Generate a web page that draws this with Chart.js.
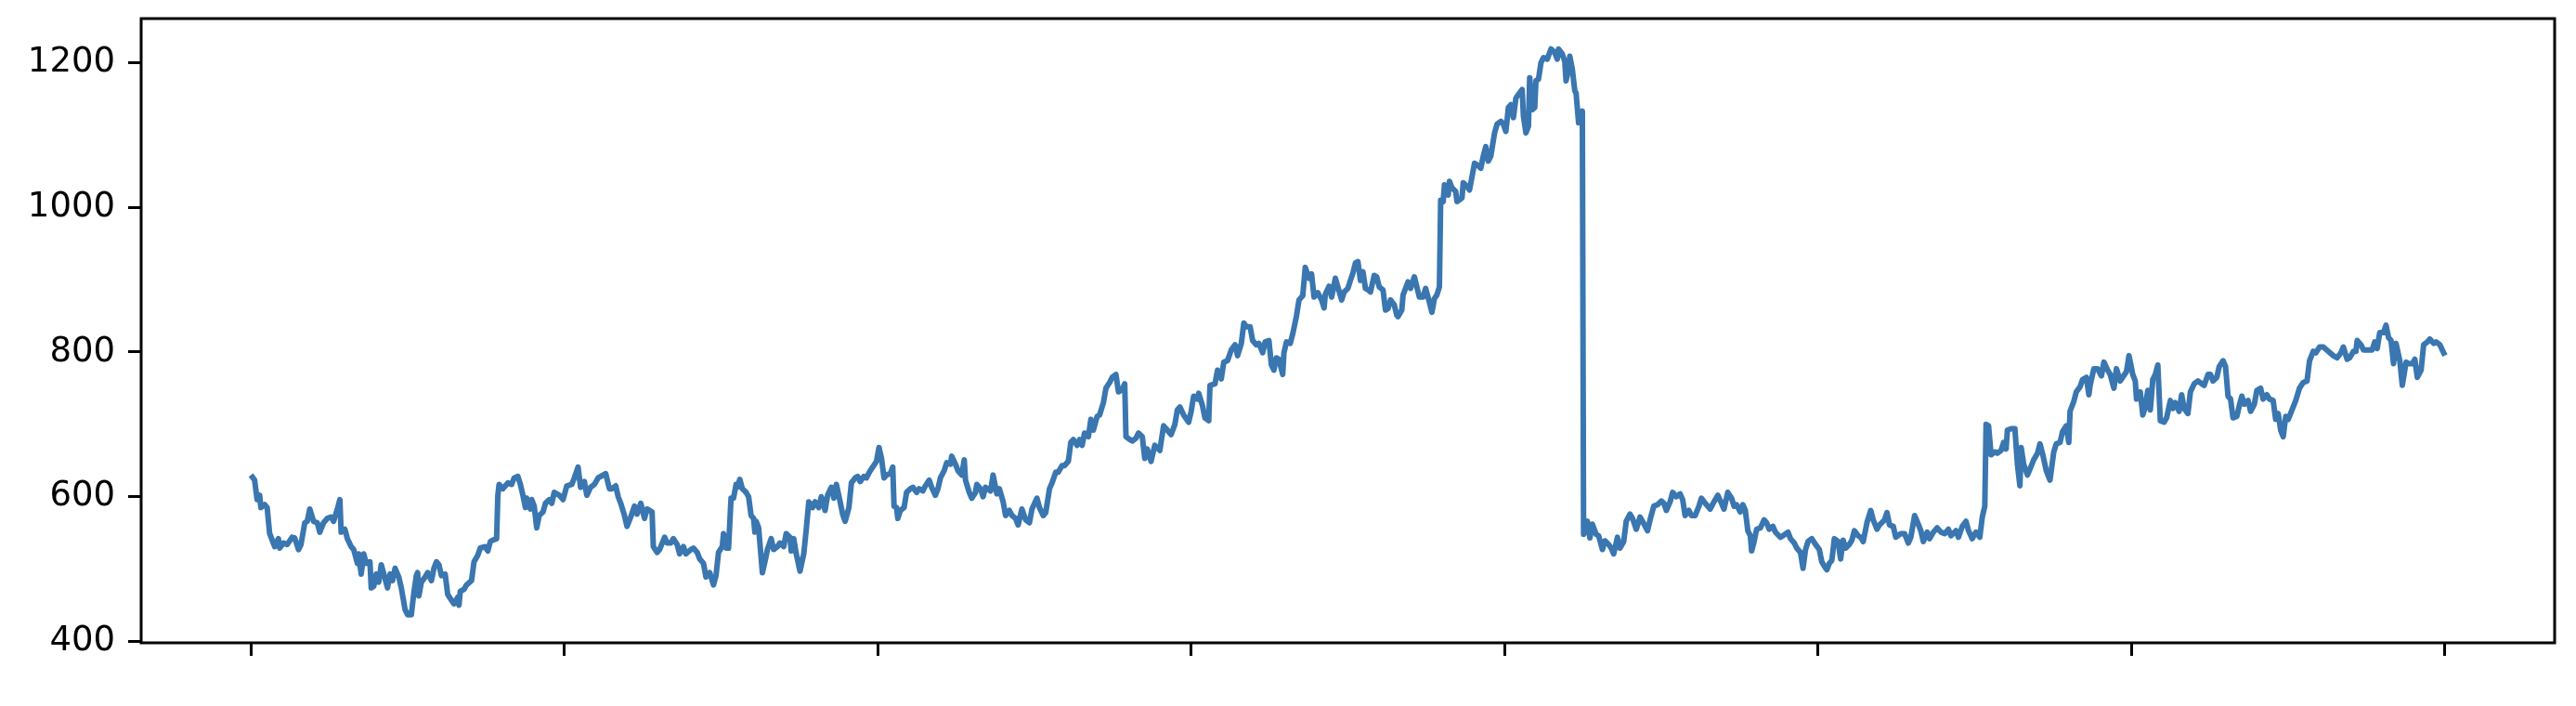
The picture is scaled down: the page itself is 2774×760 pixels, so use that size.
<!DOCTYPE html>
<html>
<head>
<meta charset="utf-8">
<script src="https://cdn.jsdelivr.net/npm/chart.js@4.4.1/dist/chart.umd.min.js"></script>
<style>
  body { margin: 0; background: #fff; }
  #grafico { display: block; }
</style>
</head>
<body>
<canvas id="grafico" width="2774" height="760"></canvas>
<script>
// dias (indice) y precio
const dias = [
  0,3,5,7,8,11,13,15,17,19,22,23,26,29,33,35,38,40,43,45,47,50,53,55,58,61,64,66,69,71,
  72,75,77,80,82,85,86,88,90,92,95,96,98,100,102,104,107,109,111,113,115,118,120,123,125,
  128,130,132,133,134,136,139,141,144,146,148,150,152,155,157,160,162,165,166,167,170,172,
  176,178,181,183,187,189,191,193,196,197,198,201,203,205,208,210,213,
  215,217,219,220,223,224,226,228,230,233,235,238,240,242,246,249,252,256,258,261,263,266,
  268,271,274,277,281,283,286,288,291,293,295,298,300,303,306,308,311,314,316,320,321,324,
  326,330,332,335,337,340,342,345,347,351,353,356,358,361,363,366,369,371,373,376,377,379,
  381,383,385,387,388,390,392,395,397,399,401,402,403,405,408,410,412,415,417,420,422,425,427,430,
  431,433,435,438,441,443,445,448,450,453,455,458,460,463,465,467,470,472,474,477,479,482,
  484,486,489,491,494,496,499,501,503,505,507,510,512,513,515,516,518,521,523,526,528,531,
  533,536,538,541,543,546,548,550,553,555,558,559,562,564,567,569,570,573,575,578,579,582,
  584,586,590,592,595,597,600,602,605,607,610,612,615,618,621,623,627,629,632,634,637,639,642,644,647,
  649,652,654,656,659,661,663,665,668,670,672,675,677,680,682,685,687,690,692,695,697,698,
  701,703,706,708,711,713,715,718,721,723,725,728,730,734,737,739,741,744,748,750,752,755,
  756,759,761,764,765,769,771,774,776,779,782,785,787,790,792,794,797,799,802,804,807,809,
  812,814,816,818,820,823,824,826,829,831,834,836,839,841,844,846,848,851,854,856,857,860,862,863,865,
  870,872,875,877,879,881,883,885,887,889,891,893,896,898,900,903,905,907,909,912,914,915,
  918,919,923,925,928,930,932,935,937,940,942,944,946,948,949,951,952,955,956,958,961,962,
  966,967,970,972,976,978,981,983,985,987,989,992,994,997,999,1001,1003,1005,1007,1009,1011,
  1014,1015,1017,1019,1020,1022,1024,1025,1027,1029,1031,1034,1037,1040,1042,1043,1046,1048,
  1049,1051,1052,1054,1056,1057,1059,1061,1062,1063,1064,1066,1068,1070,1073,1075,1078,1080,1083,
  1085,1087,1090,1092,1095,1097,1100,1102,1105,1108,1110,1114,1116,1119,1122,1125,1127,1129,
  1132,1134,1137,1140,1142,1144,1147,1149,1152,1155,1157,1160,1164,1167,1170,1173,1175,1178,
  1181,1183,1185,1188,1190,1192,1194,1196,1197,1199,1201,1204,1207,1209,1211,1214,1216,1220,
  1222,1226,1228,1231,1233,1236,1238,1240,1242,1245,1248,1251,1253,1255,1257,1259,1261,1263,
  1266,1268,1270,1272,1275,1277,1279,1282,1284,1286,1289,1292,1294,1297,1299,1302,
  1303,1305,1307,1310,1312,1316,1319,1322,1324,1327,1329,1332,1334,1337,1339,1342,1345,1348,
  1351,1354,1356,1360,1362,1365,1368,1370,1373,1376,1379,1381,1383,1384,1386,1388,1391,1393,
  1396,1398,1400,1401,1404,1407,1409,1411,1412,1414,1417,1419,1422,1425,1427,1429,1432,1435,
  1438,1440,1443,1445,1448,1450,1451,1454,1456,1459,1461,1464,1466,1467,1470,1473,1476,1478,
  1481,1483,1486,1488,1491,1493,1496,1498,1501,1503,1504,1507,1509,1511,1513,1515,1517,1519,1521,1523,
  1526,1528,1531,1533,1535,1538,1540,1542,1545,1547,1550,1553,1556,1558,1561,1563,1565,1568,
  1570,1573,1575,1577,1579,1581,1584,1586,1588,1590,1593,1595,1598,1600,1603,1605,1608,1610,
  1613,1615,1617,1619,1621,1623,1625,1628,1631,1634,1637,1640,1642,1645,1647,1650,1653,1657,
  1661,1664,1667,1669,1672,1674,1677,1679,1680,1683,1685,1689,1692,1694,1696,1698,1701,1703,
  1705,1707,1709,1711,1714,1716,1719,1721,1724,1726,1728,1731,1733,1736,1738,1741,1743,1746,1750
];

const precios = [
  630,623,596,602,585,589,585,549,540,531,542,529,536,534,544,543,527,534,564,566,583,566,564,551,564,570,572,566,583,596,
  551,555,542,531,527,508,521,493,521,508,510,474,476,493,482,506,487,474,493,484,501,489,474,444,437,
  437,467,491,495,463,482,489,495,484,501,510,506,491,493,465,457,452,461,450,469,472,478,
  484,510,519,529,531,525,538,540,542,602,617,611,615,619,617,626,628,
  617,602,585,598,583,596,587,557,574,579,591,596,591,606,602,596,615,617,626,641,613,621,
  602,613,617,626,630,632,611,611,615,600,591,574,559,572,587,576,591,570,583,579,531,523,
  527,544,536,536,542,534,521,531,521,527,529,523,514,508,489,495,478,491,523,531,549,529,
  529,598,598,617,613,624,611,606,600,574,570,551,566,557,495,510,527,542,527,531,536,531,549,544,
  525,542,521,497,521,555,593,585,593,585,600,581,602,613,598,617,593,576,566,585,619,626,
  628,621,628,626,636,641,649,668,653,626,630,632,641,587,585,570,581,585,606,611,613,606,
  611,608,615,623,613,602,611,626,636,647,645,656,645,636,630,651,623,606,598,606,617,611,
  600,613,608,630,604,611,593,574,581,574,570,561,583,568,564,583,598,585,574,578,611,619,634,634,643,
  643,649,675,679,671,679,671,688,683,707,692,711,713,730,750,758,765,769,745,748,756,683,
  679,677,681,688,683,653,666,649,671,668,664,698,694,686,700,720,724,713,703,718,739,735,
  743,726,709,705,754,756,775,763,786,788,803,810,795,812,840,835,835,816,810,812,799,814,
  816,782,775,792,790,769,799,814,812,825,850,872,878,917,902,908,876,882,872,861,880,891,876,884,902,
  872,883,888,899,909,923,925,899,911,888,886,883,906,904,890,886,858,860,872,865,851,849,
  858,879,897,888,904,890,876,876,888,869,855,874,879,890,1010,1008,1031,1017,1036,1027,1022,1008,
  1013,1034,1029,1024,1061,1059,1054,1071,1084,1064,1071,1103,1115,1119,1115,1105,1138,1142,1124,1151,1156,
  1163,1126,1103,1112,1179,1135,1138,1175,1177,1200,1207,1205,1219,1214,1205,1219,1212,1202,
  1175,1191,1209,1191,1161,1158,1117,1126,1133,548,553,566,543,562,548,546,527,539,534,
  529,521,544,529,538,566,576,570,555,572,566,553,568,587,589,594,591,581,
  593,606,600,604,596,574,581,574,574,587,598,591,583,593,602,591,583,606,
  598,587,589,579,589,581,553,546,525,538,555,557,568,564,555,559,551,544,
  546,551,542,536,529,523,501,527,538,542,534,527,510,504,499,508,512,542,
  538,514,540,529,534,540,553,546,544,538,564,581,568,555,561,566,
  568,578,561,559,544,549,549,536,544,574,566,553,538,551,542,551,557,551,
  549,555,546,553,544,559,566,553,542,551,544,572,587,700,698,658,662,660,
  664,675,666,692,694,694,645,615,668,645,630,638,651,660,673,660,636,623,
  662,673,675,690,698,675,718,732,745,752,762,765,741,754,777,777,767,786,
  775,769,750,777,760,765,773,795,769,760,735,745,713,724,747,720,762,769,782,705,
  703,709,733,722,730,718,741,722,715,745,756,760,756,754,769,769,760,765,
  780,788,780,739,735,709,711,726,739,728,733,718,728,747,750,735,741,735,
  733,707,715,692,683,711,707,720,733,750,758,760,788,801,799,807,807,801,
  795,792,799,807,790,792,801,801,816,810,803,803,803,814,805,827,827,837,
  820,816,784,812,788,754,786,784,784,790,765,775,810,814,818,812,814,810,795
];

const ticksX = [0, 250, 500, 750, 1000, 1250, 1500, 1750];
const ticksY = [400, 600, 800, 1000, 1200];

if (dias.length !== precios.length) {
  console.log("longitudes distintas", dias.length, precios.length);
}

const puntos = [];
for (let i = 0; i < dias.length; i++) {
  puntos.push({ x: dias[i], y: precios[i] });
}

// marco negro alrededor del area del grafico
const marco = {
  id: "marco",
  afterDraw(chart) {
    const ctx = chart.ctx;
    const a = chart.chartArea;
    ctx.save();
    ctx.strokeStyle = "#000";
    ctx.lineWidth = 3;
    ctx.strokeRect(a.left, a.top, a.right - a.left, a.bottom - a.top);
    ctx.restore();
  },
};

// quitar el relleno que Chart.js deja para las etiquetas de los extremos
function sinRelleno(s) {
  s.paddingTop = 0;
  s.paddingBottom = 0;
  s.paddingLeft = 0;
  s.paddingRight = 0;
}

new Chart(document.getElementById("grafico"), {
  type: "line",
  data: {
    datasets: [
      {
        data: puntos,
        borderColor: "#3a76b0",
        borderWidth: 6,
        pointRadius: 0,
        fill: false,
        tension: 0,
        borderJoinStyle: "round",
      },
    ],
  },
  options: {
    responsive: false,
    animation: false,
    layout: { padding: { left: 0, right: 23, top: 20, bottom: 0 } },
    plugins: { legend: { display: false }, tooltip: { enabled: false } },
    scales: {
      x: {
        type: "linear",
        min: -87.5,
        max: 1837.5,
        afterBuildTicks: (s) => { s.ticks = ticksX.map((v) => ({ value: v })); },
        afterFit: (s) => { s.height = 68; sinRelleno(s); },
        border: { display: false },
        grid: { drawOnChartArea: false, tickLength: 14, lineWidth: 3, color: "#000" },
        ticks: { display: false },
      },
      y: {
        min: 398,
        max: 1261,
        afterBuildTicks: (s) => { s.ticks = ticksY.map((v) => ({ value: v })); },
        afterFit: (s) => { s.width = 152; sinRelleno(s); },
        border: { display: false },
        grid: { drawOnChartArea: false, tickLength: 14, lineWidth: 3, color: "#000" },
        ticks: {
          color: "#000",
          padding: 14,
          font: { family: "DejaVu Sans", size: 37 },
          callback: (v) => String(v),
        },
      },
    },
  },
  plugins: [marco],
});
</script>
</body>
</html>
